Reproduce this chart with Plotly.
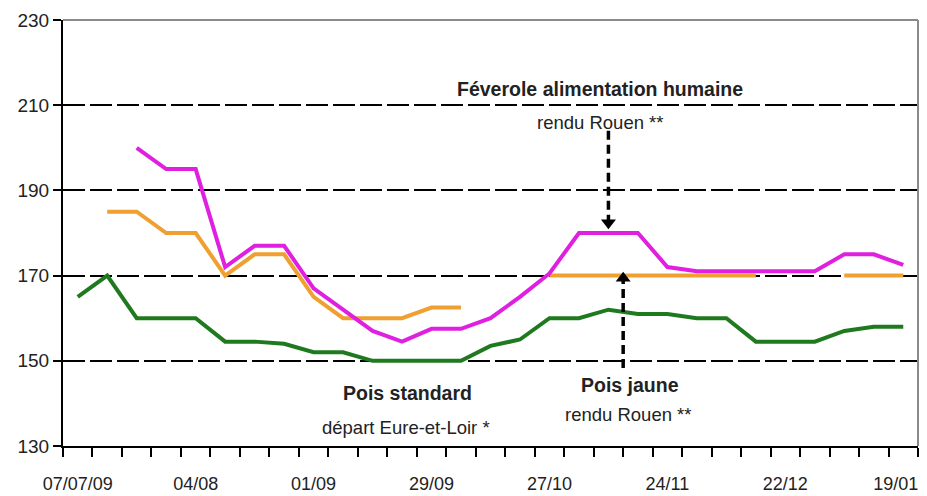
import plotly.graph_objects as go

weeks = ["2009-07-07", "2009-07-14", "2009-07-21", "2009-07-28", "2009-08-04", "2009-08-11",
         "2009-08-18", "2009-08-25", "2009-09-01", "2009-09-08", "2009-09-15", "2009-09-22",
         "2009-09-29", "2009-10-06", "2009-10-13", "2009-10-20", "2009-10-27", "2009-11-03",
         "2009-11-10", "2009-11-17", "2009-11-24", "2009-12-01", "2009-12-08", "2009-12-15",
         "2009-12-22", "2009-12-29", "2010-01-05", "2010-01-12", "2010-01-19"]

feverole = [None, None, 200, 195, 195, 172, 177, 177, 167, 162, 157, 154.5, 157.5, 157.5,
            160, 165, 170.5, 180, 180, 180, 172, 171, 171, 171, 171, 171, 175, 175, 172.5]
pois_jaune = [None, 185, 185, 180, 180, 170, 175, 175, 165, 160, 160, 160, 162.5, 162.5,
              None, None, 170, 170, 170, 170, 170, 170, 170, 170, None, None, 170, 170, 170]
pois_standard = [165, 170, 160, 160, 160, 154.5, 154.5, 154, 152, 152, 150, 150, 150, 150,
                 153.5, 155, 160, 160, 162, 161, 161, 160, 160, 154.5, 154.5, 154.5, 157, 158, 158]

tick_dates = ["2009-07-07", "2009-08-04", "2009-09-01", "2009-09-29", "2009-10-27",
              "2009-11-24", "2009-12-22", "2010-01-19"]
tick_labels = ["07/07/09", "04/08", "01/09", "29/09", "27/10", "24/11", "22/12", "19/01"]
y_ticks = [130, 150, 170, 190, 210, 230]

FONT = "Liberation Sans, Arial, sans-serif"

# last label padded on the right so it stays inside the page edge
shown_labels = tick_labels[:-1] + [tick_labels[-1] + "\u00a0\u00a0\u00a0"]

fig = go.Figure()
for vals, color in [(pois_standard, "#1f7a1f"), (pois_jaune, "#f0a030"), (feverole, "#e020e0")]:
    fig.add_trace(go.Scatter(x=weeks, y=vals, mode="lines",
                             line=dict(color=color, width=4), connectgaps=False,
                             showlegend=False, hoverinfo="skip"))

# frame (top and right) in gray
fig.add_shape(type="line", xref="paper", yref="paper", x0=0, x1=1, y0=1, y1=1,
              line=dict(color="#8a8a8a", width=2), layer="above")
fig.add_shape(type="line", xref="paper", yref="paper", x0=1, x1=1, y0=0, y1=1,
              line=dict(color="#8a8a8a", width=2), layer="above")

# dashed arrows
A1 = "2009-11-10"
A2 = "2009-11-13 12:00"
fig.add_shape(type="line", x0=A1, x1=A1, y0=204, y1=183,
              line=dict(color="black", width=3.5, dash="9px,5px"))
fig.add_shape(type="line", x0=A2, x1=A2, y0=148.3, y1=169,
              line=dict(color="black", width=3.5, dash="9px,5px"))
fig.add_trace(go.Scatter(x=[A1], y=[182.4], mode="markers",
                         marker=dict(symbol="triangle-down", size=13, color="black"),
                         showlegend=False, hoverinfo="skip"))
fig.add_trace(go.Scatter(x=[A2], y=[169.4], mode="markers",
                         marker=dict(symbol="triangle-up", size=13, color="black"),
                         showlegend=False, hoverinfo="skip"))

def label(text, x, y, size, bold):
    fig.add_annotation(xref="paper", yref="paper", x=x, y=y, text=(f"<b>{text}</b>" if bold else text),
                       showarrow=False, font=dict(family=FONT, size=size, color="#222"),
                       xanchor="center", yanchor="middle")

# page-pixel helpers (plot area spans x 63..918, y 20..446 on the page)
def px(xp):
    return (xp - 63) / (918 - 63)
def py(yp):
    return (446 - yp) / (446 - 20)

label("Féverole alimentation humaine", px(600), py(89), 19.5, True)
label("rendu Rouen **", px(600), py(122), 18.5, False)
label("Pois standard", px(407), py(393), 19.5, True)
label("départ Eure-et-Loir *", px(406), py(427), 18.5, False)
label("Pois jaune", px(630), py(385), 19.5, True)
label("rendu Rouen **", px(628), py(414), 18.5, False)

# the page body has an 8px margin, so the figure is sized/offset to compensate
fig.update_layout(
    width=919, height=488,
    margin=dict(l=55, r=9, t=12, b=50),
    plot_bgcolor="white", paper_bgcolor="white",
    font=dict(family=FONT, color="#222"),
    xaxis=dict(type="date", range=["2009-07-03 12:00", "2010-01-22 12:00"],
               tickmode="array", tickvals=tick_dates, ticktext=shown_labels,
               ticks="", showgrid=False, zeroline=False, automargin=False,
               ticklabeloverflow="allow", ticklabelstandoff=20,
               showline=True, linecolor="black", linewidth=2,
               tickfont=dict(family=FONT, size=18, color="#222"),
               minor=dict(tick0="2009-07-03 12:00", dtick=604800000, ticks="outside",
                          ticklen=9, tickwidth=2, tickcolor="black", showgrid=False)),
    yaxis=dict(range=[130, 230], tickmode="array", tickvals=y_ticks,
               ticks="outside", ticklen=8, tickwidth=2, tickcolor="black",
               showgrid=True, gridcolor="black", gridwidth=1.5, griddash="22px,5px",
               zeroline=False, showline=True, linecolor="black", linewidth=2,
               automargin=False, ticklabeloverflow="allow",
               tickfont=dict(family=FONT, size=19, color="#222")),
)

fig.write_html("out.html")
